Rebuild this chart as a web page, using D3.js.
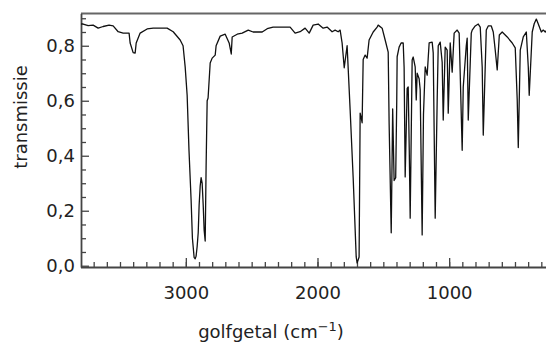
<!DOCTYPE html>
<html>
<head>
<meta charset="utf-8">
<script src="https://cdn.jsdelivr.net/npm/d3@7"></script>
<style>
    body { margin: 0; background: #fff; }
    svg { display: block; }
    .axis path, .axis line { stroke: #444; }
    .axis text { font-family: "DejaVu Sans", sans-serif; font-size: 18px; fill: #222; }
    .label { font-family: "DejaVu Sans", sans-serif; font-size: 18px; fill: #222; }
</style>
</head>
<body>
<div id="view"></div>
<script>

// IR spectrum (golfgetal in cm-1, transmissie 0..1)
var wavenumber = [
    3795, 3780, 3742, 3704, 3666, 3628, 3583, 3552, 3514, 3476, 3431, 3423, 3400, 3385, 3377, 3347,
    3294, 3248, 3142, 3096, 3043, 3021, 3005, 2990, 2976, 2960, 2950, 2937, 2929, 2922, 2914, 2906,
    2899, 2891, 2884, 2876, 2868, 2861, 2853, 2846, 2838, 2831, 2815, 2800, 2777, 2770, 2739, 2701,
    2671, 2655, 2648, 2610, 2572, 2526, 2489, 2420, 2382, 2337, 2284, 2208, 2170, 2132, 2094, 2063,
    2033, 1995, 1957, 1927, 1889, 1866, 1843, 1828, 1813, 1797, 1775, 1752, 1729, 1706, 1699, 1684,
    1676, 1669, 1661, 1653, 1638, 1623, 1608, 1577, 1547, 1539, 1509, 1486, 1463, 1456, 1440, 1429,
    1418, 1406, 1398, 1395, 1380, 1365, 1349, 1342, 1334, 1319, 1311, 1303, 1296, 1281, 1273, 1258,
    1250, 1243, 1228, 1220, 1205, 1195, 1182, 1167, 1152, 1129, 1121, 1106, 1091, 1083, 1068, 1053,
    1045, 1030, 1015, 1007, 992, 977, 962, 939, 924, 901, 893, 870, 863, 855, 832, 825,
    802, 779, 764, 749, 741, 718, 703, 680, 665, 650, 635, 619, 597, 559, 521, 498,
    483, 475, 460, 437, 414, 399, 392, 369, 354, 338, 323, 300, 285, 270, 262,
];
var transmission = [
    0.879, 0.879, 0.873, 0.875, 0.864, 0.870, 0.875, 0.872, 0.851, 0.846, 0.846, 0.810, 0.775, 0.773, 0.810, 0.846,
    0.861, 0.864, 0.864, 0.851, 0.821, 0.800, 0.723, 0.620, 0.420, 0.240, 0.100, 0.030, 0.025, 0.035, 0.070, 0.120,
    0.220, 0.290, 0.320, 0.300, 0.220, 0.130, 0.090, 0.360, 0.600, 0.610, 0.737, 0.755, 0.766, 0.800, 0.835, 0.842,
    0.810, 0.770, 0.832, 0.842, 0.846, 0.857, 0.850, 0.850, 0.862, 0.868, 0.868, 0.868, 0.846, 0.851, 0.864, 0.846,
    0.875, 0.879, 0.864, 0.868, 0.851, 0.857, 0.851, 0.857, 0.810, 0.720, 0.800, 0.566, 0.320, 0.032, 0.010, 0.032,
    0.555, 0.540, 0.520, 0.750, 0.766, 0.755, 0.821, 0.850, 0.868, 0.875, 0.864, 0.821, 0.777, 0.519, 0.120, 0.570,
    0.310, 0.320, 0.600, 0.760, 0.795, 0.810, 0.810, 0.720, 0.323, 0.645, 0.650, 0.420, 0.173, 0.748, 0.759, 0.723,
    0.603, 0.700, 0.680, 0.640, 0.112, 0.550, 0.723, 0.693, 0.810, 0.813, 0.774, 0.173, 0.600, 0.800, 0.813, 0.740,
    0.530, 0.795, 0.784, 0.555, 0.810, 0.704, 0.846, 0.857, 0.846, 0.420, 0.650, 0.800, 0.828, 0.530, 0.846, 0.857,
    0.872, 0.879, 0.868, 0.723, 0.475, 0.857, 0.872, 0.872, 0.850, 0.784, 0.712, 0.839, 0.850, 0.832, 0.810, 0.792,
    0.603, 0.430, 0.784, 0.832, 0.850, 0.723, 0.620, 0.850, 0.880, 0.897, 0.879, 0.850, 0.857, 0.850, 0.855,
];
var xMajorTicks = [3000, 2000, 1000];
var xMinorTicks = d3.range(3700, 200, -100);
var yMajorTicks = [0, 0.2, 0.4, 0.6, 0.8];
var yMinorTicks = [0.05, 0.1, 0.15, 0.25, 0.3, 0.35, 0.45, 0.5, 0.55, 0.65, 0.7, 0.75, 0.85, 0.9];

var view = {
    width: 546,
    height: 345,
    left: 81,
    top: 13.5,
    bottom: 267,
    right: 548,
};

var x = d3.scaleLinear().domain([3800, 250]).range([80.5, 547.9]);
var y = d3.scaleLinear().domain([-0.005, 0.918]).range([267.1, 13.3]);
var fmt = d3.formatLocale({decimal: ",", thousands: "", grouping: [3], currency: ["", ""]}).format(".1f");

var svg = d3.select("#view").append("svg")
    .attr("width", view.width)
    .attr("height", view.height)
;

svg.append("clipPath").attr("id", "clip")
    .append("rect")
    .attr("x", view.left).attr("y", view.top)
    .attr("width", view.right - view.left).attr("height", view.bottom - view.top)
;

// frame: top line
svg.append("line")
    .attr("x1", view.left).attr("x2", view.right)
    .attr("y1", view.top).attr("y2", view.top)
    .attr("stroke", "#666").attr("stroke-width", 1.8)
;

// x axis, minor then major (ticks inward)
svg.append("g")
    .attr("class", "axis")
    .attr("transform", `translate(0, ${view.bottom})`)
    .call(d3.axisBottom(x).tickValues(xMinorTicks).tickSizeInner(-5).tickSizeOuter(0).tickFormat(""))
    .call(g => g.select(".domain").attr("stroke-width", 1.8))
    .call(g => g.selectAll(".tick line").attr("stroke-width", 1.3))
;
svg.append("g")
    .attr("class", "axis")
    .attr("transform", `translate(0, ${view.bottom})`)
    .call(d3.axisBottom(x).tickValues(xMajorTicks).tickSizeInner(-9).tickSizeOuter(0).tickPadding(19).tickFormat(d3.format("d")))
    .call(g => g.select(".domain").remove())
    .call(g => g.selectAll(".tick line").attr("stroke-width", 1.3))
;

// y axis
svg.append("g")
    .attr("class", "axis")
    .attr("transform", `translate(${view.left}, 0)`)
    .call(d3.axisLeft(y).tickValues(yMinorTicks).tickSizeInner(-5).tickSizeOuter(0).tickFormat(""))
    .call(g => g.select(".domain").attr("stroke-width", 1.8))
    .call(g => g.selectAll(".tick line").attr("stroke-width", 1.3))
;
svg.append("g")
    .attr("class", "axis")
    .attr("transform", `translate(${view.left}, 0)`)
    .call(d3.axisLeft(y).tickValues(yMajorTicks).tickSizeInner(-8).tickSizeOuter(0).tickPadding(6).tickFormat(fmt))
    .call(g => g.select(".domain").remove())
    .call(g => g.selectAll(".tick line").attr("stroke-width", 1.3))
;

// spectrum
var line = d3.line()
    .x((d, i) => x(wavenumber[i]))
    .y(d => y(d))
;
svg.append("path")
    .datum(transmission)
    .attr("clip-path", "url(#clip)")
    .attr("fill", "none")
    .attr("stroke", "#111")
    .attr("stroke-width", 1.3)
    .attr("stroke-linejoin", "round")
    .attr("d", line)
;

// labels
svg.append("text")
    .attr("class", "label")
    .attr("transform", "translate(26.5, 117) rotate(-90)")
    .attr("text-anchor", "middle")
    .text("transmissie")
;
var xl = svg.append("text")
    .attr("class", "label")
    .attr("x", 271).attr("y", 338)
    .attr("text-anchor", "middle")
;
xl.append("tspan").text("golfgetal (cm");
xl.append("tspan").attr("dy", -7).attr("font-size", 13).text("\u22121");
xl.append("tspan").attr("dy", 7).text(")");

</script>
</body>
</html>
